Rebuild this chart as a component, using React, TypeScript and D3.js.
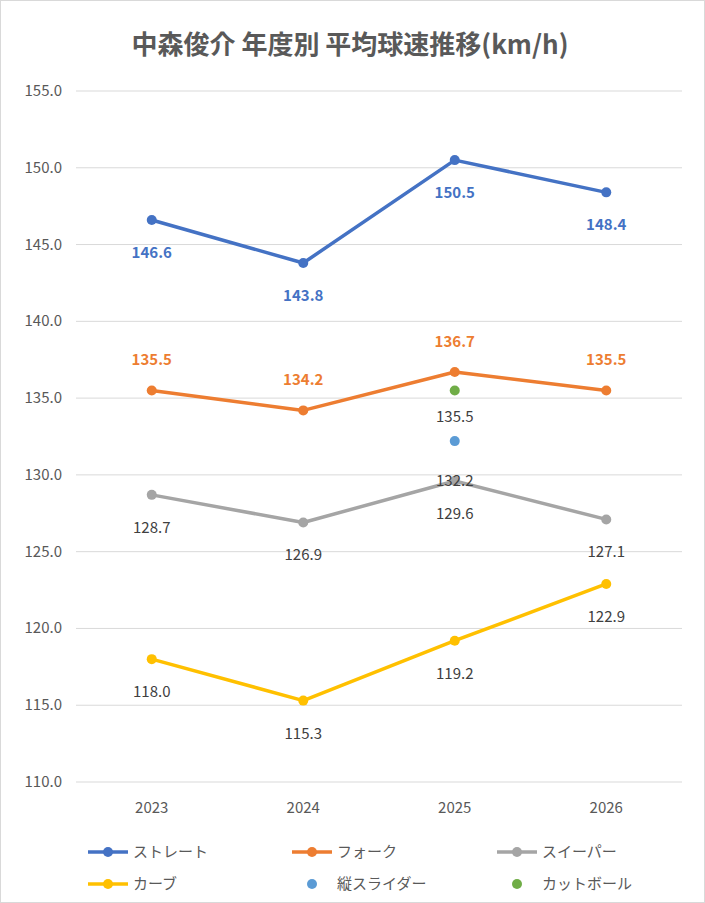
import React from 'react';
import * as d3 from 'd3';

const years = ['2023', '2024', '2025', '2026'];
const straight = [146.6, 143.8, 150.5, 148.4];
const fork = [135.5, 134.2, 136.7, 135.5];
const sweeper = [128.7, 126.9, 129.6, 127.1];
const curve = [118.0, 115.3, 119.2, 122.9];
const slider = [null, null, 132.2, null];
const cutter = [null, null, 135.5, null];
const yTicks = [110, 115, 120, 125, 130, 135, 140, 145, 150, 155];

const seriesList = [
  { name: 'ストレート', values: straight, color: '#4472C4', labelColor: '#4472C4', dy: 33, line: true },
  { name: 'フォーク', values: fork, color: '#ED7D31', labelColor: '#ED7D31', dy: -30, line: true },
  { name: 'スイーパー', values: sweeper, color: '#A5A5A5', labelColor: '#404040', dy: 33, line: true },
  { name: 'カーブ', values: curve, color: '#FFC000', labelColor: '#404040', dy: 33, line: true },
  { name: '縦スライダー', values: slider, color: '#5B9BD5', labelColor: '#404040', dy: 40, line: false },
  { name: 'カットボール', values: cutter, color: '#70AD47', labelColor: '#404040', dy: 27, line: false },
];

export default function App() {
  const W = 705, H = 903;
  const font = '"Noto Sans CJK JP", "Noto Sans", sans-serif';
  const x = d3.scaleBand().domain(years).range([76, 682]);
  const cx = (yr: string) => (x(yr) as number) + x.bandwidth() / 2;
  const y = d3.scaleLinear().domain([110, 155]).range([782, 91]);
  const line = d3.line<number>().x((_, i) => cx(years[i])).y(d => y(d));
  const legendCols = [88, 292, 497];

  return (
    <svg width={W} height={H} style={{ position: 'absolute', left: 0, top: 0 }} fontFamily={font}>
      <rect x={0.5} y={0.5} width={W - 1} height={H - 1} fill="#fff" stroke="#D9D9D9" />
      <text x={350} y={54} textAnchor="middle" fontSize={26} fontWeight="bold" fill="#595959">
        中森俊介 年度別 平均球速推移(km/h)
      </text>
      {yTicks.map(t => (
        <g key={t}>
          <line x1={76} x2={682} y1={y(t)} y2={y(t)} stroke="#D9D9D9" strokeWidth={1} />
          <text x={62} y={y(t) + 5} textAnchor="end" fontSize={15} fill="#595959">{t.toFixed(1)}</text>
        </g>
      ))}
      {years.map(yr => (
        <text key={yr} x={cx(yr)} y={813} textAnchor="middle" fontSize={15} fill="#595959">{yr}</text>
      ))}
      {seriesList.map(s => (
        <g key={s.name}>
          {s.line && (
            <path d={line(s.values as number[]) as string} fill="none" stroke={s.color} strokeWidth={3.5} strokeLinejoin="round" />
          )}
          {s.values.map((v, i) => v == null ? null : (
            <g key={i}>
              <circle cx={cx(years[i])} cy={y(v)} r={5} fill={s.color} />
              <text x={cx(years[i])} y={y(v) + s.dy + 5} textAnchor="middle" fontSize={15}
                fill={s.labelColor} fontWeight={s.line && s.labelColor !== '#404040' ? 'bold' : 'normal'}>
                {v.toFixed(1)}
              </text>
            </g>
          ))}
        </g>
      ))}
      {seriesList.map((s, i) => {
        const lx = legendCols[i % 3];
        const ly = i < 3 ? 852 : 884;
        return (
          <g key={s.name}>
            {s.line && <line x1={lx} x2={lx + 40} y1={ly} y2={ly} stroke={s.color} strokeWidth={3.5} />}
            <circle cx={lx + 20} cy={ly} r={5} fill={s.color} />
            <text x={lx + 45} y={ly + 5} fontSize={15} fill="#595959">{s.name}</text>
          </g>
        );
      })}
    </svg>
  );
}
